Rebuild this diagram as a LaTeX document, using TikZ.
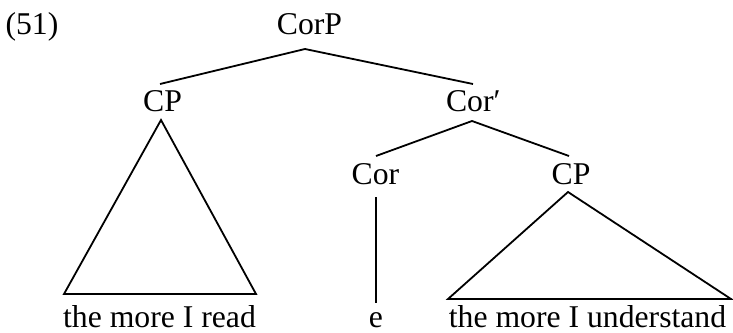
\documentclass[tikz,border=0pt]{standalone}
\usepackage{fontspec}
\setmainfont{Liberation Serif}
\begin{document}
\begin{tikzpicture}[x=1pt,y=-1pt,
  lbl/.style={inner sep=0pt,outer sep=0pt,anchor=base,font=\fontsize{31.7}{36}\selectfont},
  branch/.style={line width=1.8pt,line cap=butt,line join=miter}]
\useasboundingbox (0,0) rectangle (733,332);
% labels
\node[lbl,anchor=base west] (num) at (5.5,34) {(51)};
\node[lbl] (corp) at (309.5,34) {CorP};
\node[lbl] (cpl) at (162.5,111) {CP};
\node[lbl,anchor=base west] (corbar) at (446,111) {Cor′};
\node[lbl] (cor) at (375.5,184) {Cor};
\node[lbl] (cpr) at (571,184) {CP};
\node[lbl] (read) at (159.5,327) {the more I read};
\node[lbl] (e) at (376,327) {e};
\node[lbl] (und) at (587.5,327) {the more I understand};
% attachment points
\coordinate (corp-b) at (305,49);
\coordinate (cpl-t) at (160,84);
\coordinate (corbar-t) at (473,84);
\coordinate (corbar-b) at (472,121);
\coordinate (cor-t) at (376,156);
\coordinate (cpr-t) at (569,156);
\coordinate (cor-b) at (376,197);
\coordinate (e-t) at (376,303);
\coordinate (cpl-b) at (161,120);
\coordinate (read-l) at (64,294);
\coordinate (read-r) at (256,294);
\coordinate (cpr-b) at (568,192);
\coordinate (und-l) at (448,299);
\coordinate (und-r) at (731,299);
% branches
\draw[branch] (cpl-t) -- (corp-b) -- (corbar-t);
\draw[branch] (cor-t) -- (corbar-b) -- (cpr-t);
\draw[branch] (cor-b) -- (e-t);
\draw[branch] (cpl-b) -- (read-l) -- (read-r) -- cycle;
\draw[branch] (cpr-b) -- (und-l) -- (und-r) -- cycle;
\end{tikzpicture}
\end{document}
